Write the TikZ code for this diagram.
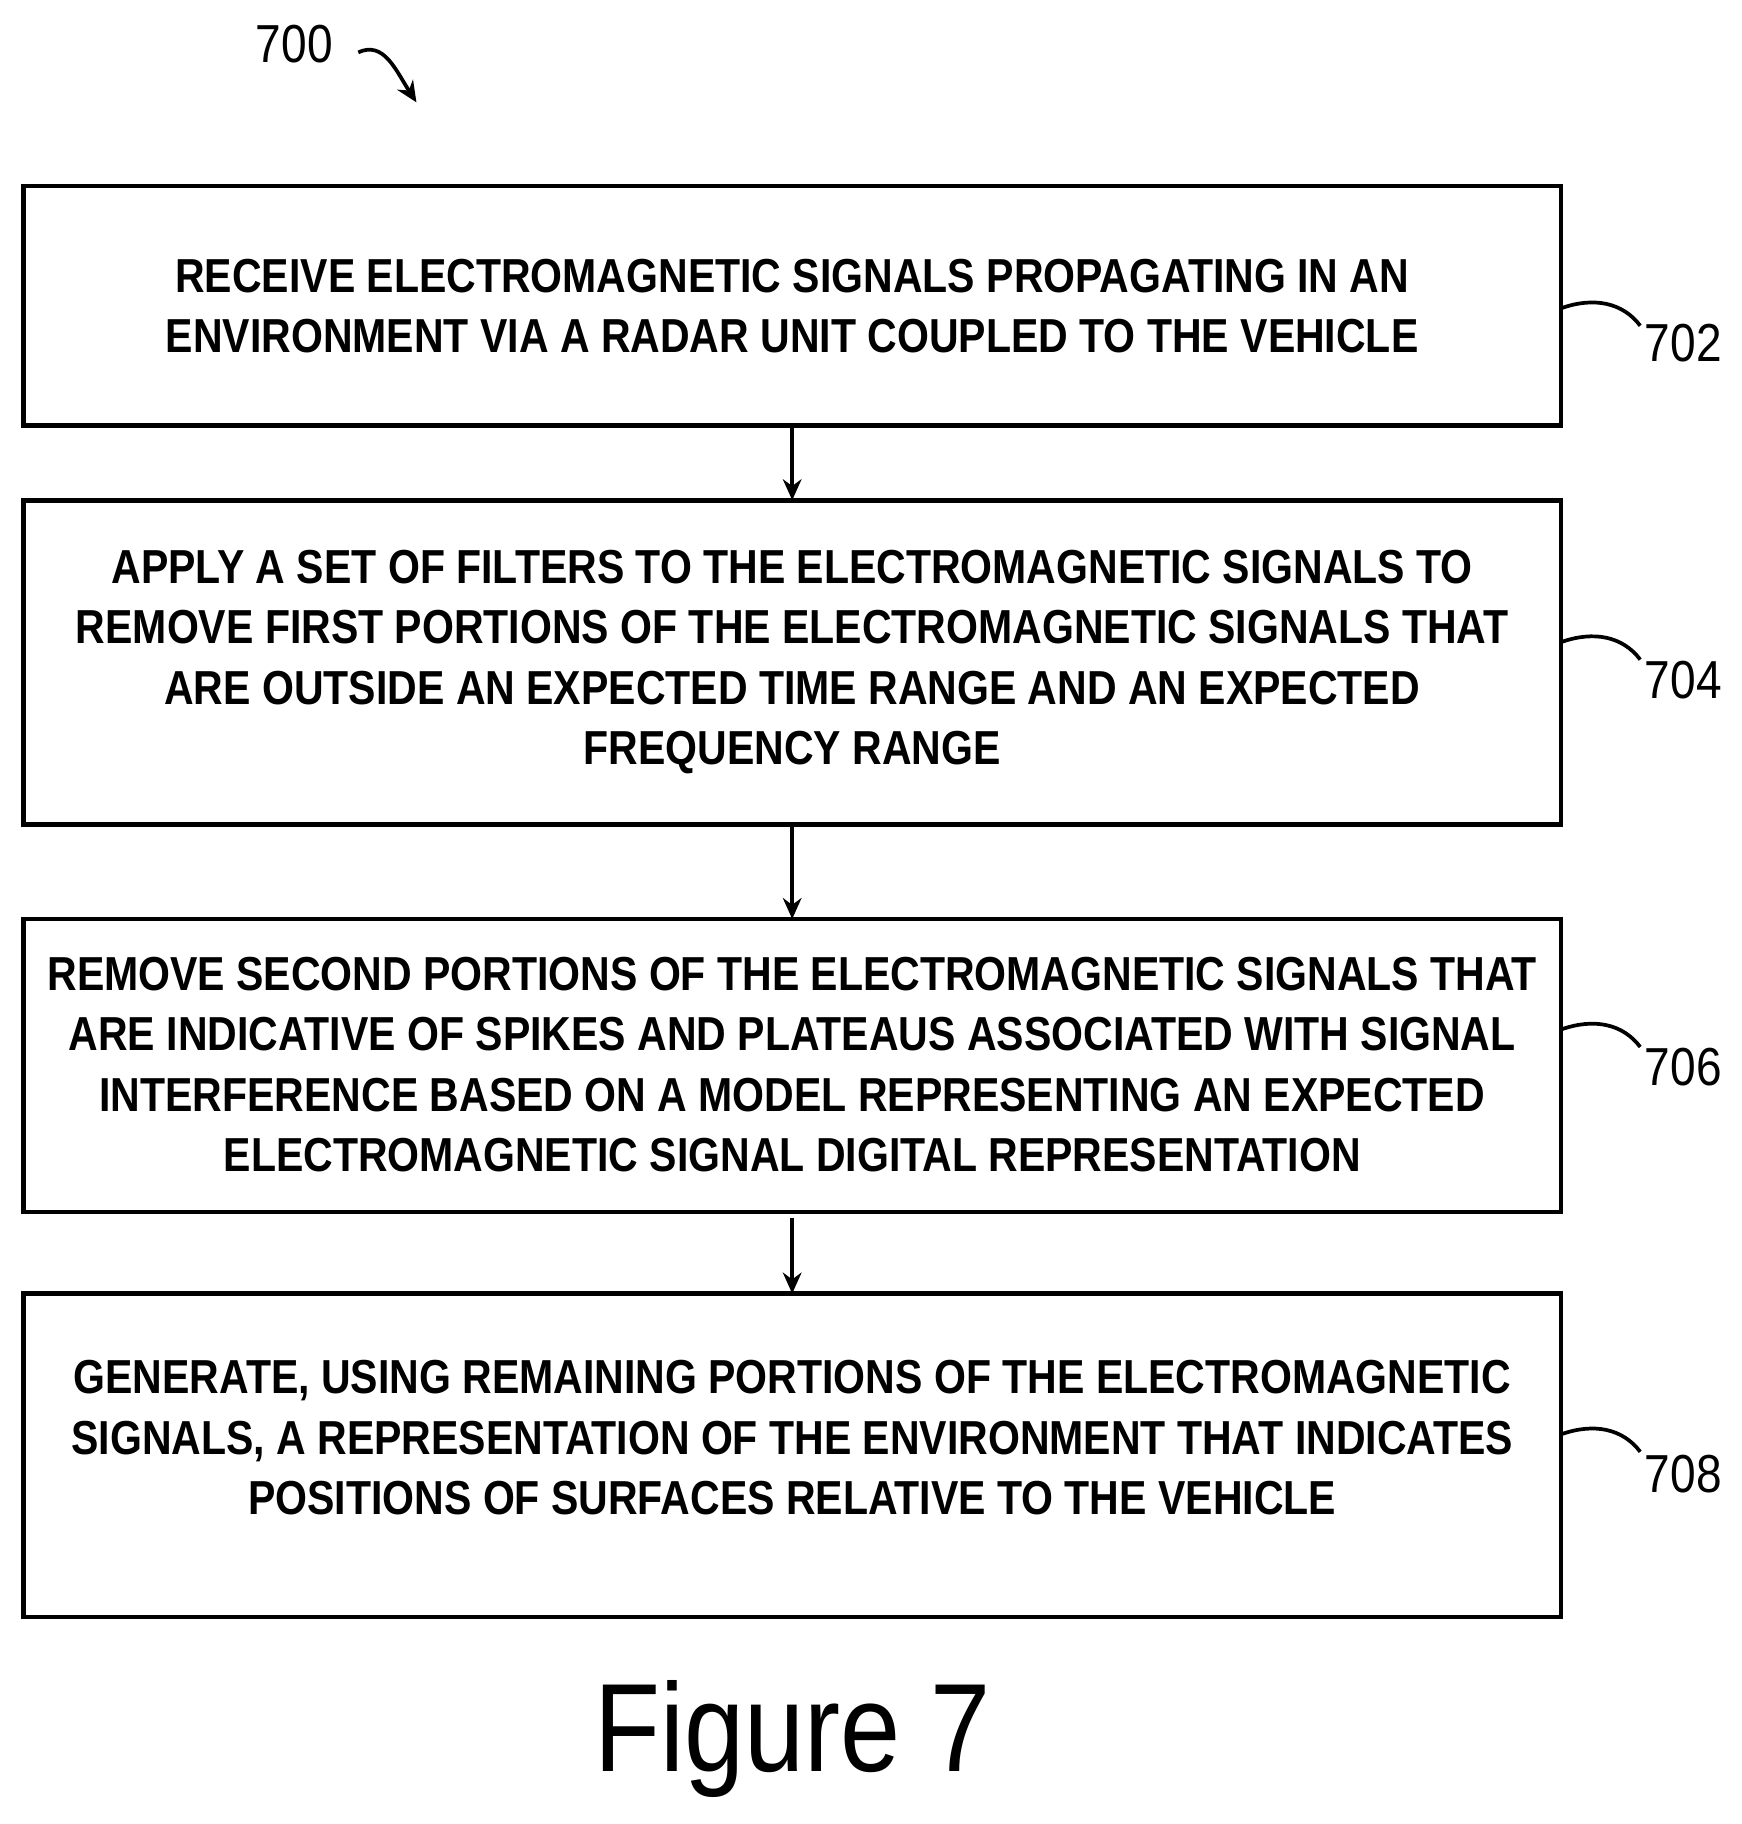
\documentclass[tikz,border=0pt]{standalone}
\usepackage{fontspec}
\usetikzlibrary{arrows.meta}
\setmainfont{Liberation Sans}[FakeStretch=0.86]
\begin{document}
\begin{tikzpicture}[x=0.5pt,y=-0.5pt,
  box/.style={draw,line width=2pt},
  txt/.style={align=center,font=\fontsize{20.5}{26}\selectfont\bfseries},
  lbl/.style={font=\fontsize{23}{26}\selectfont},
  lead/.style={line width=1.6pt},
  arr/.style={line width=1.6pt,-{Stealth[length=9pt,width=8pt]}}]
\useasboundingbox (0,0) rectangle (1497,1568);
\draw[box] (20,160) rectangle (1342,366);
\draw[box] (20,430) rectangle (1342,709);
\draw[box] (20,790) rectangle (1342,1042);
\draw[box] (20,1112) rectangle (1342,1390);
\node[txt] (t1) at (681,263) {RECEIVE ELECTROMAGNETIC SIGNALS PROPAGATING IN AN\\ENVIRONMENT VIA A RADAR UNIT COUPLED TO THE VEHICLE};
\node[txt] (t2) at (681,569) {APPLY A SET OF FILTERS TO THE ELECTROMAGNETIC SIGNALS TO\\REMOVE FIRST PORTIONS OF THE ELECTROMAGNETIC SIGNALS THAT\\ARE OUTSIDE AN EXPECTED TIME RANGE AND AN EXPECTED\\FREQUENCY RANGE};
\node[txt] (t3) at (681,915) {REMOVE SECOND PORTIONS OF THE ELECTROMAGNETIC SIGNALS THAT\\ARE INDICATIVE OF SPIKES AND PLATEAUS ASSOCIATED WITH SIGNAL\\INTERFERENCE BASED ON A MODEL REPRESENTING AN EXPECTED\\ELECTROMAGNETIC SIGNAL DIGITAL REPRESENTATION};
\node[txt] (t4) at (681,1236) {GENERATE, USING REMAINING PORTIONS OF THE ELECTROMAGNETIC\\SIGNALS, A REPRESENTATION OF THE ENVIRONMENT THAT INDICATES\\POSITIONS OF SURFACES RELATIVE TO THE VEHICLE};
\coordinate (a1) at (681,366); \coordinate (b1) at (681,430);
\coordinate (a2) at (681,709); \coordinate (b2) at (681,790);
\coordinate (a3) at (681,1047); \coordinate (b3) at (681,1112);
\draw[arr] (a1) -- (b1);
\draw[arr] (a2) -- (b2);
\draw[arr] (a3) -- (b3);
\foreach \n/\y/\yl in {702/265/295,704/552/585,706/885/917,708/1233/1267}{
  \node[lbl] (l\n) at (1447,\yl) {\n};
  \draw[lead] (1342,\y) .. controls (1370,\y-10) and (1395,\y-5) .. (1410,\y+15);
}
\node[lbl] (l700) at (253,38) {700};
\coordinate (p1) at (308,45); \coordinate (p2) at (358,88);
\draw[line width=1.6pt,-{Stealth[length=9pt,width=8pt]}] (p1) .. controls (330,35) and (340,60) .. (p2);
\node[font=\fontsize{54}{60}\selectfont] (fig) at (681,1495) {Figure 7};
\end{tikzpicture}
\end{document}
